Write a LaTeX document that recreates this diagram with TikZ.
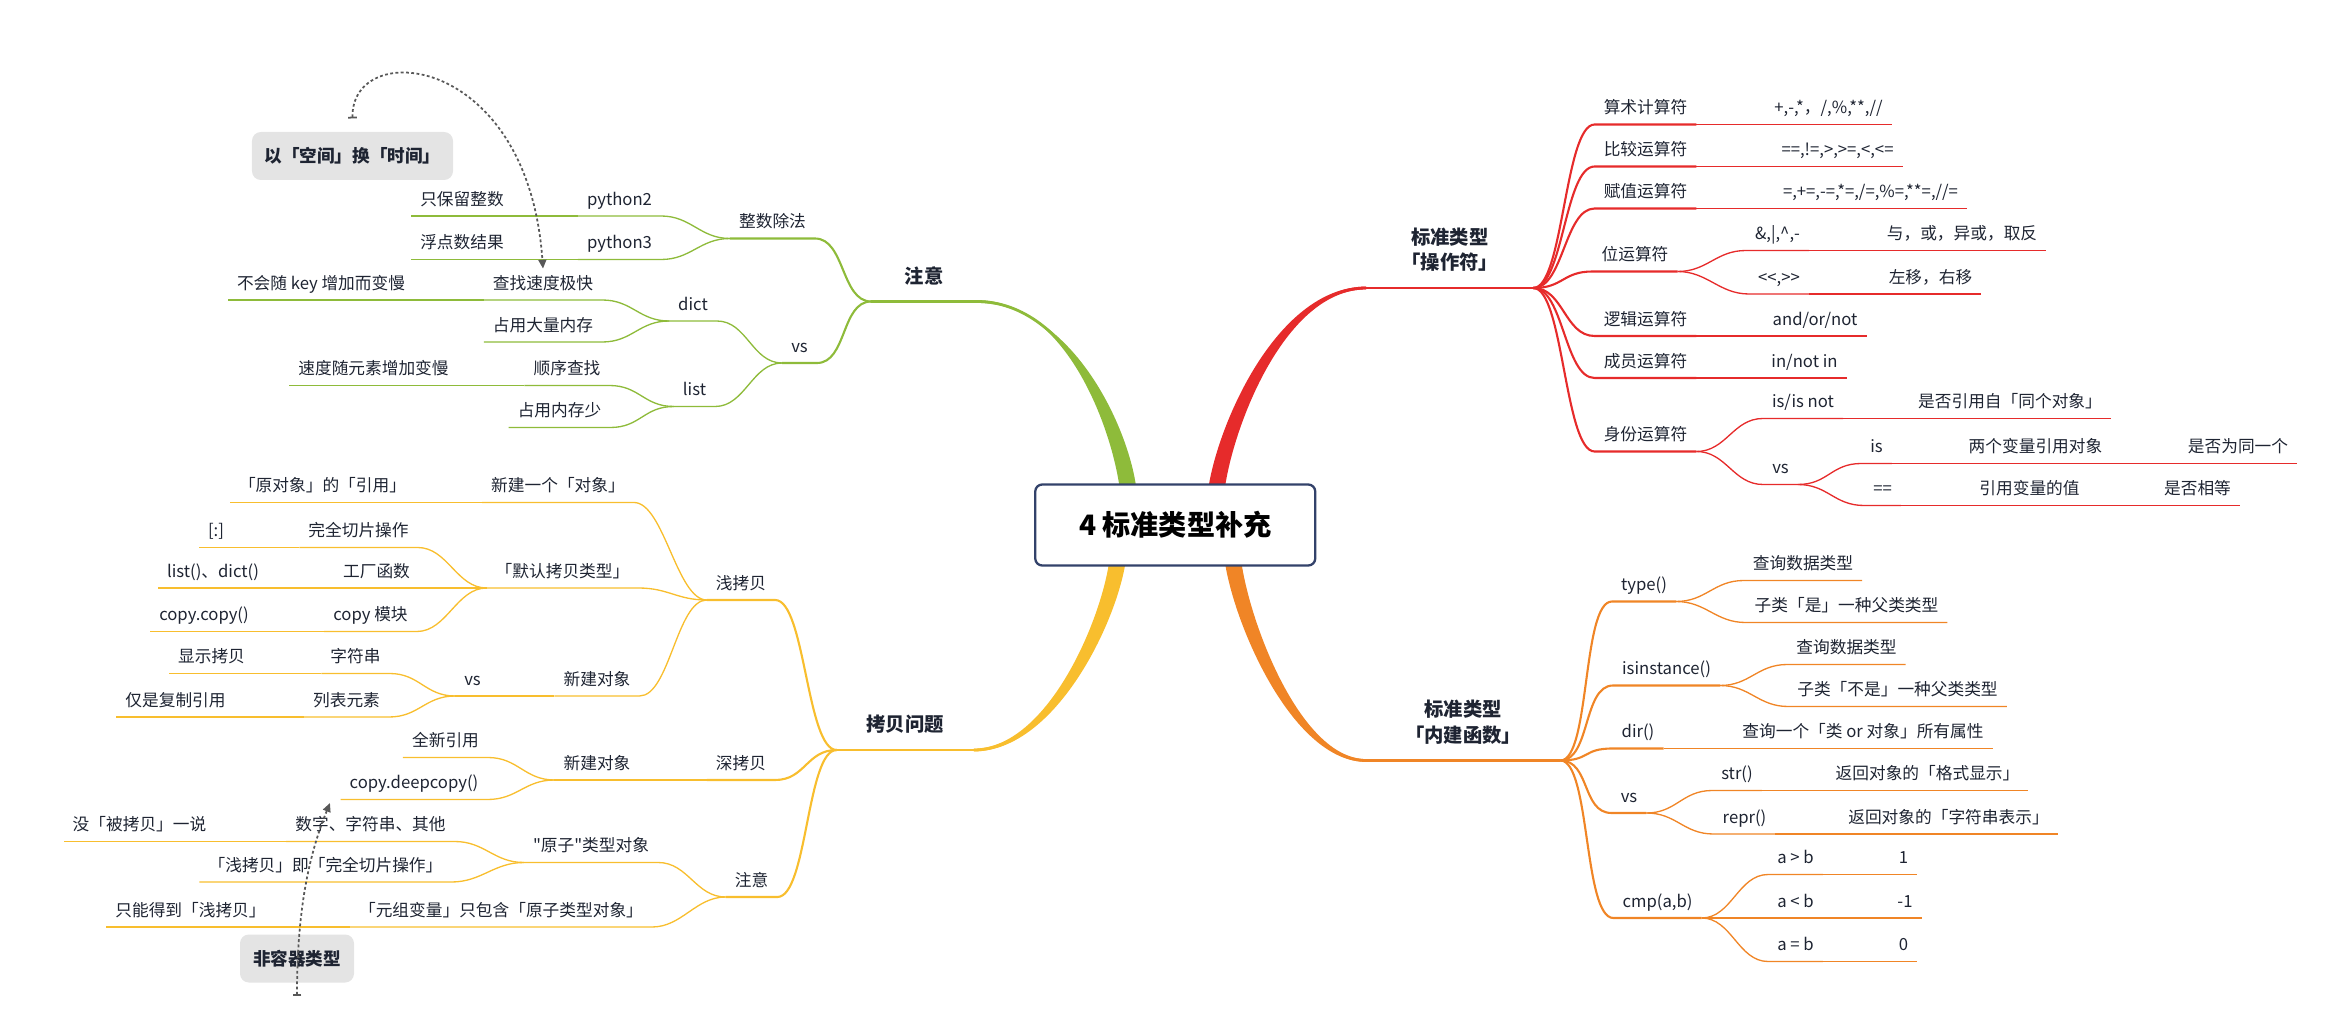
\documentclass[tikz,border=0pt]{standalone}
\usepackage{fontspec}
\setmainfont{Noto Sans CJK SC}[Ligatures=TeXOff]
\usetikzlibrary{arrows.meta,backgrounds}

\definecolor{cred}{HTML}{E62B2B}
\definecolor{corange}{HTML}{F08526}
\definecolor{cyellow}{HTML}{F8BE2E}
\definecolor{cgreen}{HTML}{8EBB3A}
\definecolor{cnavy}{HTML}{33426A}
\definecolor{ink}{HTML}{1E2432}
\definecolor{boxgray}{HTML}{E4E4E4}
\definecolor{relgray}{HTML}{585858}

\begin{document}
\begin{tikzpicture}[x=0.03cm, y=-0.03cm,
    every node/.style={text=ink},
    tp/.style={anchor=south, inner xsep=5pt, inner ysep=4pt,
      text height=7.5pt, text depth=2pt, font=\fontsize{9.5}{11}\selectfont},
    hub/.style={anchor=south, inner xsep=0pt, inner ysep=9pt, align=center,
      font=\fontsize{11}{14.5}\selectfont\bfseries},
    floatbox/.style={fill=boxgray, rounded corners=5pt, minimum height=0.96cm,
      font=\fontsize{10}{12}\selectfont\bfseries},
    l1/.style={line width=1.6pt},
    l2/.style={line width=1.2pt},
    l3/.style={line width=0.75pt},
    lft/.style={out=180, in=0, distance=0.6cm},
    rgt/.style={out=0, in=180, distance=0.6cm},
    rel/.style={relgray, line width=1pt, dash pattern=on 1.6pt off 1.4pt,
      {Bar[width=5pt]}-{Triangle[length=5pt, width=4.5pt]}}]
  \useasboundingbox (0,0) rectangle (1568,680);

  % --- raiz ---
  \node[draw=cnavy, line width=1.3pt, fill=white, rounded corners=4pt,
    minimum width=5.6cm, minimum height=1.62cm,
    font=\fontsize{16}{18}\selectfont\bfseries, text=black] (root) at (783.5,350) {4 标准类型补充};

  % --- ramos principais ---
  \node[hub, minimum width=2.1cm] (note) at (616,201) {注意};
  \node[hub, minimum width=3.33cm] (ops) at (966.5,192) {标准类型\\「操作符」};
  \node[hub, minimum width=3.87cm] (bif) at (975.5,507) {标准类型\\「内建函数」};
  \node[hub, minimum width=2.73cm] (cp) at (603.5,500) {拷贝问题};

  \begin{scope}[on background layer]
    \fill[cgreen] (747,330) .. controls (743,290) and (712,200.1) .. ([yshift=.8pt]note.south east)
      -- ([yshift=-.8pt]note.south east) .. controls (716,201.9) and (755,290) .. (758,330) -- cycle;
    \draw[l1,cgreen] (752,330) .. controls (749,290) and (714,201) .. (note.south east);
    \fill[cred] (805,330) .. controls (809,290) and (849,191.1) .. ([yshift=.8pt]ops.south west)
      -- ([yshift=-.8pt]ops.south west) .. controls (855,192.9) and (820,290) .. (816,330) -- cycle;
    \draw[l1,cred] (810,330) .. controls (814,290) and (852,192) .. (ops.south west);
    \fill[corange] (816,370) .. controls (820,410) and (860,507.9) .. ([yshift=-.8pt]bif.south west)
      -- ([yshift=.8pt]bif.south west) .. controls (866,506.1) and (831,410) .. (827,370) -- cycle;
    \draw[l1,corange] (821,370) .. controls (825,410) and (863,507) .. (bif.south west);
    \fill[cyellow] (751,370) .. controls (747,410) and (705,500.9) .. ([yshift=-.8pt]cp.south east)
      -- ([yshift=.8pt]cp.south east) .. controls (699,499.1) and (736,410) .. (740,370) -- cycle;
    \draw[l1,cyellow] (745,370) .. controls (741,410) and (702,500) .. (cp.south east);
  \end{scope}
  \foreach \h/\c in {note/cgreen, ops/cred, bif/corange, cp/cyellow}
    \draw[l1,\c] (\h.south west) -- (\h.south east);

  % ---注意 (verde) ---
  \node[tp] (div) at (515,159) {整数除法};
  \node[tp] (py2) at (413,144) {python2};
  \node[tp] (py2a) at (308,144) {只保留整数};
  \node[tp] (py3) at (413,173) {python3};
  \node[tp] (py3a) at (308,173) {浮点数结果};
  \node[tp] (gvs) at (533,242) {vs};
  \node[tp] (dic) at (462,214) {dict};
  \node[tp] (dfa) at (362,200) {查找速度极快};
  \node[tp] (dfb) at (214,200) {不会随 key 增加而变慢};
  \node[tp] (dmem) at (362,228) {占用大量内存};
  \node[tp] (lst) at (463,271) {list};
  \node[tp] (lsq) at (378,257) {顺序查找};
  \node[tp] (lsl) at (249,257) {速度随元素增加变慢};
  \node[tp] (lmem) at (373,285) {占用内存少};

  \foreach \c in {div,gvs}
    \draw[l2,cgreen] (note.south west) to[lft] (\c.south east) -- (\c.south west);
  \foreach \a/\b in {div/py2, div/py3, py2/py2a, py3/py3a, gvs/dic, gvs/lst,
      dic/dfa, dic/dmem, dfa/dfb, lst/lsq, lst/lmem, lsq/lsl}
    \draw[l3,cgreen] (\a.south west) to[lft] (\b.south east) -- (\b.south west);

  % --- 操作符 (vermelho) ---
  \node[tp] (ar) at (1097,83) {算术计算符};
  \node[tp] (ar2) at (1219,83) {+,-,*，/,\%,**,//};
  \node[tp] (cm) at (1097,111) {比较运算符};
  \node[tp] (cm2) at (1225,111) {==,!=,>,>=,<,<=};
  \node[tp] (as) at (1097,139) {赋值运算符};
  \node[tp] (as2) at (1247,139) {=,+=,-=,*=,/=,\%=,**=,//=};
  \node[tp] (bt) at (1090,181) {位运算符};
  \node[tp] (bt1) at (1185,167) {\&,|,\textasciicircum,-};
  \node[tp] (bt1a) at (1308,167) {与，或，异或，取反};
  \node[tp] (bt2) at (1186,196) {<<,>>};
  \node[tp] (bt2a) at (1287,196) {左移，右移};
  \node[tp] (lg) at (1097,224) {逻辑运算符};
  \node[tp] (lg2) at (1210,224) {and/or/not};
  \node[tp] (mb) at (1097,252) {成员运算符};
  \node[tp] (mb2) at (1203,252) {in/not in};
  \node[tp] (id) at (1097,301) {身份运算符};
  \node[tp] (id1) at (1202,279) {is/is not};
  \node[tp] (id1a) at (1340,279) {是否引用自「同个对象」};
  \node[tp] (idv) at (1187,323) {vs};
  \node[tp] (is) at (1251,309) {is};
  \node[tp] (isa) at (1357,309) {两个变量引用对象};
  \node[tp] (isb) at (1492,309) {是否为同一个};
  \node[tp] (eq) at (1255,337) {==};
  \node[tp] (eqa) at (1353,337) {引用变量的值};
  \node[tp] (eqb) at (1465,337) {是否相等};

  \foreach \c in {ar,cm,as,bt,lg,mb,id}
    \draw[l2,cred] (ops.south east) to[rgt] (\c.south west) -- (\c.south east);
  \foreach \a/\b in {ar/ar2, cm/cm2, as/as2, bt/bt1, bt/bt2, bt1/bt1a, bt2/bt2a,
      lg/lg2, mb/mb2, id/id1, id/idv, id1/id1a, idv/is, idv/eq, is/isa, isa/isb,
      eq/eqa, eqa/eqb}
    \draw[l3,cred] (\a.south east) to[rgt] (\b.south west) -- (\b.south east);

  % --- 内建函数 (laranja) ---
  \node[tp] (ty) at (1096,401) {type()};
  \node[tp] (ty1) at (1202,387) {查询数据类型};
  \node[tp] (ty2) at (1231,415) {子类「是」一种父类类型};
  \node[tp] (isi) at (1111,457) {isinstance()};
  \node[tp] (isi1) at (1231,443) {查询数据类型};
  \node[tp] (isi2) at (1265,471) {子类「不是」一种父类类型};
  \node[tp] (dr) at (1092,499) {dir()};
  \node[tp] (dr1) at (1242,499) {查询一个「类 or 对象」所有属性};
  \node[tp] (ovs) at (1086,542) {vs};
  \node[tp] (st) at (1158,527) {str()};
  \node[tp] (sta) at (1285,527) {返回对象的「格式显示」};
  \node[tp] (rp) at (1163,556) {repr()};
  \node[tp] (rpa) at (1299,556) {返回对象的「字符串表示」};
  \node[tp] (cmp) at (1105,612) {cmp(a,b)};
  \node[tp] (gt) at (1197,583) {a > b};
  \node[tp] (gt1) at (1269,583) {1};
  \node[tp] (lt) at (1197,612) {a < b};
  \node[tp] (lt1) at (1270,612) {-1};
  \node[tp] (ae) at (1197,641) {a = b};
  \node[tp] (ae1) at (1269,641) {0};

  \foreach \c in {ty,isi,dr,ovs,cmp}
    \draw[l2,corange] (bif.south east) to[rgt] (\c.south west) -- (\c.south east);
  \foreach \a/\b in {ty/ty1, ty/ty2, isi/isi1, isi/isi2, dr/dr1, ovs/st, ovs/rp,
      st/sta, rp/rpa, cmp/gt, cmp/lt, cmp/ae, gt/gt1, lt/lt1, ae/ae1}
    \draw[l3,corange] (\a.south east) to[rgt] (\b.south west) -- (\b.south east);

  % --- 拷贝问题 (amarelo) ---
  \node[tp] (sh) at (494,400) {浅拷贝};
  \node[tp] (sh1) at (372,335) {新建一个「对象」};
  \node[tp] (sh1a) at (215,335) {「原对象」的「引用」};
  \node[tp] (sh2) at (375,392) {「默认拷贝类型」};
  \node[tp] (sl) at (239,365) {完全切片操作};
  \node[tp] (sla) at (144,365) {[:]};
  \node[tp] (fc) at (251,392) {工厂函数};
  \node[tp] (fca) at (142,392) {list()、dict()};
  \node[tp] (mdl) at (247,421) {copy 模块};
  \node[tp] (mdla) at (136,421) {copy.copy()};
  \node[tp] (sh3) at (398,464) {新建对象};
  \node[tp] (shv) at (315,464) {vs};
  \node[tp] (sstr) at (237,449) {字符串};
  \node[tp] (sstra) at (141,449) {显示拷贝};
  \node[tp] (sls) at (231,478) {列表元素};
  \node[tp] (slsa) at (117,478) {仅是复制引用};
  \node[tp] (dp) at (494,520) {深拷贝};
  \node[tp] (dp1) at (398,520) {新建对象};
  \node[tp] (dpa) at (297,505) {全新引用};
  \node[tp] (dpb) at (276,533) {copy.deepcopy()};
  \node[tp] (nt) at (501,598) {注意};
  \node[tp] (at) at (394,575) {"原子"类型对象};
  \node[tp] (at1) at (247,561) {数字、字符串、其他};
  \node[tp] (at1a) at (93,561) {没「被拷贝」一说};
  \node[tp] (at2) at (217,588) {「浅拷贝」即「完全切片操作」};
  \node[tp] (tu) at (334,618) {「元组变量」只包含「原子类型对象」};
  \node[tp] (tua) at (127,618) {只能得到「浅拷贝」};

  \foreach \c in {sh,dp,nt}
    \draw[l2,cyellow] (cp.south west) to[lft] (\c.south east) -- (\c.south west);
  \foreach \a/\b in {sh/sh1, sh/sh2, sh/sh3, sh1/sh1a, sh2/sl, sh2/fc, sh2/mdl,
      sl/sla, fc/fca, mdl/mdla, sh3/shv, shv/sstr, shv/sls, sstr/sstra, sls/slsa,
      dp/dp1, dp1/dpa, dp1/dpb, nt/at, nt/tu, at/at1, at/at2, at1/at1a, tu/tua}
    \draw[l3,cyellow] (\a.south west) to[lft] (\b.south east) -- (\b.south west);

  % --- notas soltas e relacoes ---
  \node[floatbox, minimum width=4.02cm] (spc) at (235,104) {以「空间」换「时间」};
  \node[floatbox, minimum width=2.28cm] (nct) at (198,639) {非容器类型};

  \draw[rel] ([yshift=7.5pt]spc.north) .. controls (234,25) and (352,35) .. (dfa.north);
  \draw[rel] ([yshift=-7.5pt]nct.south) .. controls (198,600) and (208,565)
    .. ([xshift=-6pt,yshift=-2pt]dpb.south west);
\end{tikzpicture}
\end{document}
